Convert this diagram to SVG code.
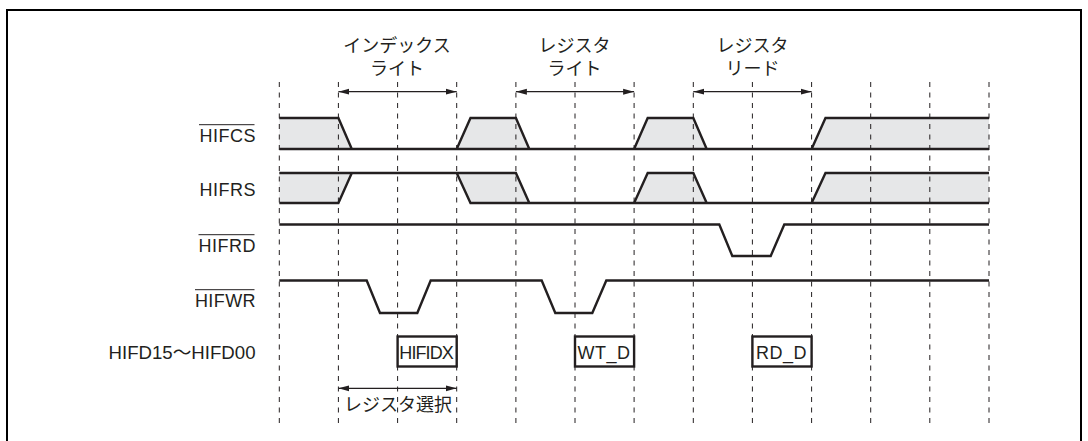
<svg xmlns="http://www.w3.org/2000/svg" width="1088" height="441" viewBox="0 0 1088 441">
<style>
.lbl{font-family:"Liberation Sans",Arial,sans-serif;font-size:18px;fill:#231f20}
.cjk{font-family:"Noto Sans CJK JP",sans-serif}
.jp{font-family:"Noto Sans CJK JP","Noto Sans",sans-serif;font-size:18px;fill:#231f20}
.wave{fill:none;stroke:#231f20;stroke-width:2.4;stroke-linejoin:miter}
.shade{fill:#e6e7e8;stroke:none}
.grid{stroke:#231f20;stroke-width:1;stroke-dasharray:5 5.5}
.arr{stroke:#231f20;stroke-width:1.2;fill:none;marker-start:url(#ah);marker-end:url(#ah)}
.box{fill:#fff;stroke:#231f20;stroke-width:2.4}
.ovl{stroke:#231f20;stroke-width:1}
</style>
<defs>
<marker id="ah" markerUnits="userSpaceOnUse" markerWidth="12" markerHeight="8" refX="11" refY="3.5" orient="auto-start-reverse">
<path d="M0,0.5 L11,3.5 L0,6.5 z" fill="#231f20"/>
</marker>
</defs>
<rect width="1088" height="441" fill="#fff"/>
<path d="M7,441 V10 H1081 V441" fill="none" stroke="#000" stroke-width="2"/>

<g id="shading">
<polygon class="shade" points="279.3,118 338.4,118 351.8,149 279.3,149"/>
<polygon class="shade" points="456.7,149 470.5,118 515.9,118 529.3,149"/>
<polygon class="shade" points="634.1,149 647.7,118 693.3,118 706.7,149"/>
<polygon class="shade" points="811.6,149 825.5,118 989,118 989,149"/>
<polygon class="shade" points="279.3,173 351.8,173 338.4,203 279.3,203"/>
<polygon class="shade" points="456.7,173 515.9,173 529.3,203 470.5,203"/>
<polygon class="shade" points="634.1,203 647.7,173 693.3,173 706.7,203"/>
<polygon class="shade" points="811.6,203 825.5,173 989,173 989,203"/>
</g>

<g id="grid">
<line class="grid" x1="279.3" y1="82" x2="279.3" y2="424"/>
<line class="grid" x1="338.4" y1="82" x2="338.4" y2="424"/>
<line class="grid" x1="397.6" y1="82" x2="397.6" y2="424"/>
<line class="grid" x1="456.7" y1="82" x2="456.7" y2="424"/>
<line class="grid" x1="515.9" y1="82" x2="515.9" y2="424"/>
<line class="grid" x1="575" y1="82" x2="575" y2="424"/>
<line class="grid" x1="634.1" y1="82" x2="634.1" y2="424"/>
<line class="grid" x1="693.3" y1="82" x2="693.3" y2="424"/>
<line class="grid" x1="752.4" y1="82" x2="752.4" y2="424"/>
<line class="grid" x1="811.6" y1="82" x2="811.6" y2="424"/>
<line class="grid" x1="870.7" y1="82" x2="870.7" y2="424"/>
<line class="grid" x1="929.8" y1="82" x2="929.8" y2="424"/>
<line class="grid" x1="989" y1="82" x2="989" y2="424"/>
</g>

<g id="HIFCS">
<text class="lbl" x="255.5" y="141.5" text-anchor="end" textLength="56">HIFCS</text>
<line class="ovl" x1="199" y1="124.7" x2="254.5" y2="124.7"/>
<path class="wave" d="M279.3,149 H989 M279.3,118 H338.4 L351.8,149 M456.7,149 L470.5,118 H515.9 L529.3,149 M634.1,149 L647.7,118 H693.3 L706.7,149 M811.6,149 L825.5,118 H989"/>
</g>

<g id="HIFRS">
<text class="lbl" x="255.5" y="195.5" text-anchor="end" textLength="56">HIFRS</text>
<path class="wave" d="M279.3,173 H515.9 L529.3,203 M279.3,203 H338.4 L351.8,173 M456.7,173 L470.5,203 H989 M634.1,203 L647.7,173 H693.3 L706.7,203 M811.6,203 L825.5,173 H989"/>
</g>

<g id="HIFRD">
<text class="lbl" x="255.5" y="251.5" text-anchor="end" textLength="57">HIFRD</text>
<line class="ovl" x1="198.5" y1="234.7" x2="254.5" y2="234.7"/>
<path class="wave" d="M279.3,224.5 H719.3 L732.3,256 H770.7 L784.3,224.5 H989"/>
</g>

<g id="HIFWR">
<text class="lbl" x="255.5" y="306.5" text-anchor="end" textLength="60.5">HIFWR</text>
<line class="ovl" x1="195" y1="289.7" x2="254.5" y2="289.7"/>
<path class="wave" d="M279.3,280.5 H366.7 L380,313 H417.3 L430.7,280.5 H541.7 L555.3,313 H592.3 L606.3,280.5 H989"/>
</g>

<g id="HIFD">
<text class="lbl" x="255.5" y="358.5" text-anchor="end" textLength="147" lengthAdjust="spacingAndGlyphs">HIFD15<tspan class="cjk">～</tspan>HIFD00</text>
</g>

<g id="box-HIFIDX">
<rect class="box" x="397.6" y="336.5" width="59.1" height="30"/>
<text class="lbl" x="399.3" y="358.5" textLength="54.5">HIFIDX</text>
</g>
<g id="box-WT_D">
<rect class="box" x="575" y="336.5" width="59.1" height="30"/>
<text class="lbl" x="577.5" y="358.5" textLength="52.5">WT_D</text>
</g>
<g id="box-RD_D">
<rect class="box" x="752.4" y="336.5" width="59.2" height="30"/>
<text class="lbl" x="756" y="358.5" textLength="50.5">RD_D</text>
</g>

<g id="label-index-write">
<text class="jp" text-anchor="middle"><tspan x="397" y="52">インデックス</tspan><tspan x="397" y="74.5">ライト</tspan></text>
</g>
<g id="label-reg-write">
<text class="jp" text-anchor="middle"><tspan x="574.5" y="52">レジスタ</tspan><tspan x="574.5" y="74.5">ライト</tspan></text>
</g>
<g id="label-reg-read">
<text class="jp" text-anchor="middle"><tspan x="752.5" y="52">レジスタ</tspan><tspan x="752.5" y="74.5">リード</tspan></text>
</g>
<g id="label-reg-select">
<text class="jp" x="398" y="410.5" text-anchor="middle">レジスタ選択</text>
</g>

<g id="connectors">
<line class="arr" x1="338.4" y1="91.7" x2="456.7" y2="91.7"/>
<line class="arr" x1="515.9" y1="91.7" x2="634.1" y2="91.7"/>
<line class="arr" x1="693.3" y1="91.7" x2="811.6" y2="91.7"/>
<line class="arr" x1="338.4" y1="388.3" x2="456.7" y2="388.3"/>
</g>
</svg>
